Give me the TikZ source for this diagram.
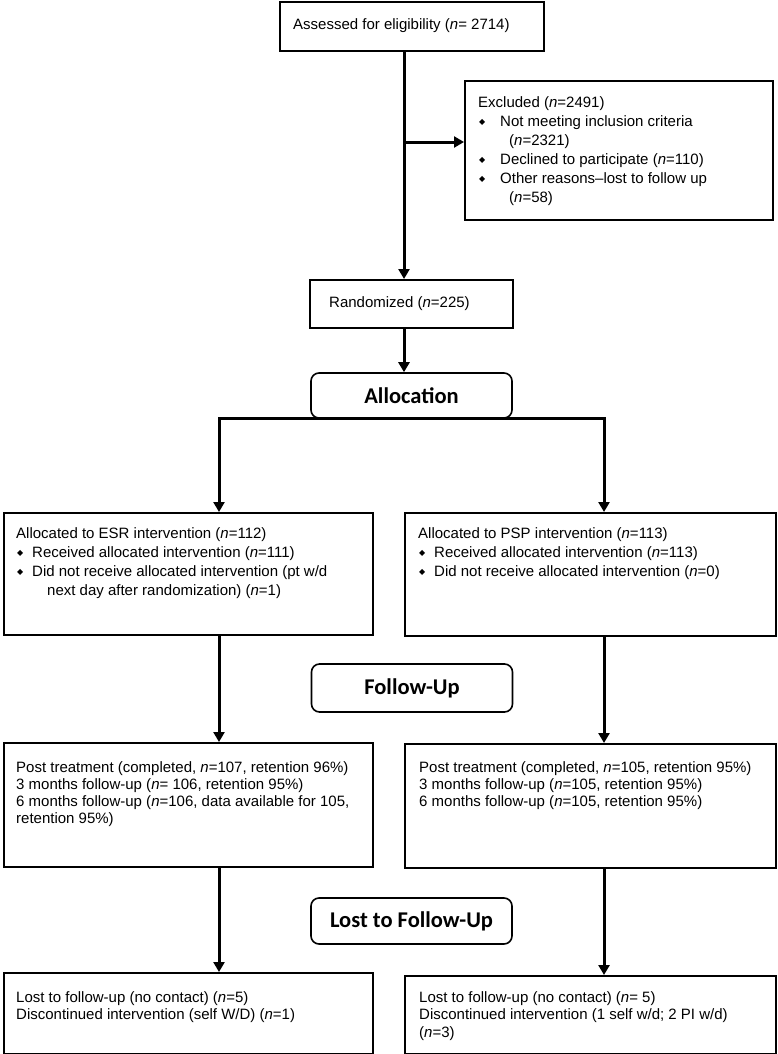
\documentclass[tikz,border=0pt]{standalone}
\usepackage{fontspec}
\setmainfont{Liberation Sans}
\newfontfamily\headf{Carlito}
\newfontfamily\symf{DejaVu Sans}
\usetikzlibrary{arrows.meta,calc}
\newcommand\dia[1]{\makebox[#1pt][l]{\hspace*{1pt}\raisebox{1.8pt}{\symf\fontsize{8}{8}\selectfont ◆}}}
\newcommand\nn{\textit{n}}
\begin{document}
\begin{tikzpicture}[x=1pt,y=-1pt,
  box/.style={draw, line width=2pt, rectangle, anchor=north west, inner sep=0pt},
  head/.style={draw, line width=1.6pt, rounded corners=8pt, minimum width=201pt, inner sep=0pt,
    font=\headf\bfseries\fontsize{22.5}{24}\selectfont},
  txt/.style={anchor=north west, inner sep=0pt, align=left, font=\fontsize{15}{17.3}\selectfont},
  txtb/.style={txt, font=\fontsize{15}{19.3}\selectfont},
  conn/.style={line width=3pt, -{Triangle[length=10pt,width=11pt]}}]
\useasboundingbox (0,0) rectangle (777,1054);
\fill[white] (0,0) rectangle (777,1054);

% boxes
\node[box, minimum width=264pt, minimum height=49pt] (assess) at (279,1) {};
\node[box, minimum width=308pt, minimum height=139pt] (excl) at (464,80) {};
\node[box, minimum width=203pt, minimum height=48pt] (rand) at (309,279) {};
\node[box, minimum width=369pt, minimum height=122pt] (esr) at (3,512) {};
\node[box, minimum width=371pt, minimum height=123pt] (psp) at (404,512) {};
\node[box, minimum width=369pt, minimum height=124pt] (fl) at (3,742) {};
\node[box, minimum width=371pt, minimum height=124pt] (fr) at (404,743) {};
\node[box, minimum width=369pt, minimum height=81pt] (bl) at (3,972) {};
\node[box, minimum width=371pt, minimum height=78pt] (br) at (404,975) {};

% headings
\node[head, minimum height=45pt] (alloc) at (411.5,395.5) {Allocation};
\node[head, minimum height=48pt] (fup) at (412,688) {Follow-Up};
\node[head, minimum height=46pt] (lost) at (411.5,921) {Lost to Follow-Up};

% texts
\node[txt, anchor=west] (assess-t) at (293,26) {Assessed for eligibility (\nn= 2714)};
\node[txt, anchor=west] (rand-t) at (329,304) {Randomized (\nn=225)};
\node[txt, font=\fontsize{15}{19}\selectfont] (excl-t) at (478,96) {Excluded (\nn=2491)\\
\dia{22}Not meeting inclusion criteria\\
\hspace*{31pt}(\nn=2321)\\
\dia{22}Declined to participate (\nn=110)\\
\dia{22}Other reasons--lost to follow up\\
\hspace*{31pt}(\nn=58)};
\node[txtb] (esr-t) at (16,527) {Allocated to ESR intervention (\nn=112)\\
\dia{16}Received allocated intervention (\nn=111)\\
\dia{16}Did not receive allocated intervention (pt w/d\\
\hspace*{31pt}next day after randomization) (\nn=1)};
\node[txtb] (psp-t) at (418,527) {Allocated to PSP intervention (\nn=113)\\
\dia{16}Received allocated intervention (\nn=113)\\
\dia{16}Did not receive allocated intervention (\nn=0)};
\node[txt] (fl-t) at (16,761) {Post treatment (completed, \nn=107, retention 96\%)\\
3 months follow-up (\nn= 106, retention 95\%)\\
6 months follow-up (\nn=106, data available for 105,\\
retention 95\%)};
\node[txt] (fr-t) at (419,761) {Post treatment (completed, \nn=105, retention 95\%)\\
3 months follow-up (\nn=105, retention 95\%)\\
6 months follow-up (\nn=105, retention 95\%)};
\node[txt] (bl-t) at (16,991) {Lost to follow-up (no contact) (\nn=5)\\
Discontinued intervention (self W/D) (\nn=1)};
\node[txt, font=\fontsize{15}{17.8}\selectfont] (br-t) at (419,991) {Lost to follow-up (no contact) (\nn= 5)\\
Discontinued intervention (1 self w/d; 2 PI w/d)\\
(\nn=3)};

% connectors
\coordinate (vx) at (404,0);
\coordinate (lx) at (219,0);
\coordinate (rx) at (604,0);
\coordinate (br1) at (404,142);
\draw[conn] (assess.south -| vx) -- (rand.north -| vx);
\draw[conn] (br1) -- (br1 -| excl.west);
\draw[conn] (rand.south -| vx) -- (alloc.north -| vx);
\draw[conn] (alloc.south) -| (esr.north -| lx);
\draw[conn] (alloc.south) -| (psp.north -| rx);
\draw[conn] (esr.south -| lx) -- (fl.north -| lx);
\draw[conn] (psp.south -| rx) -- (fr.north -| rx);
\draw[conn] (fl.south -| lx) -- (bl.north -| lx);
\draw[conn] (fr.south -| rx) -- (br.north -| rx);
\end{tikzpicture}
\end{document}
